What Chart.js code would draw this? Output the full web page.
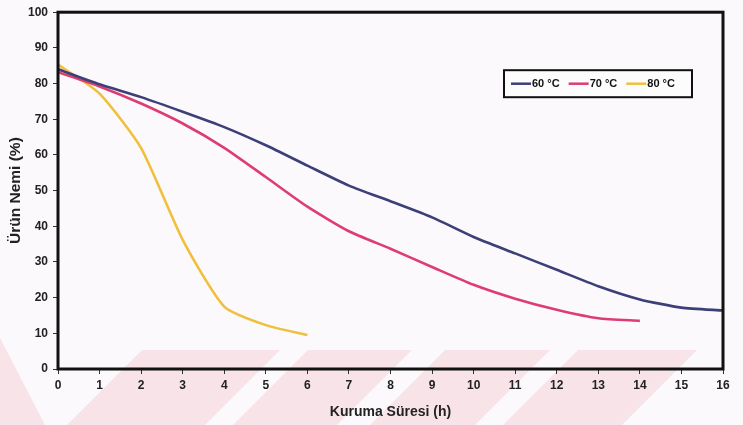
<!DOCTYPE html>
<html>
<head>
<meta charset="utf-8">
<script src="https://cdn.jsdelivr.net/npm/chart.js@4/dist/chart.umd.min.js"></script>
<style>
  html, body { margin: 0; padding: 0; background: #fbf9fb; }
  #wrap { width: 743px; height: 425px; }
</style>
</head>
<body>
<div id="wrap"><canvas id="chart" width="743" height="425"></canvas></div>
<script>
// drying time (h)
const hours = [0, 1, 2, 3, 4, 5, 6, 7, 8, 9, 10, 11, 12, 13, 14, 15, 16]
// product moisture (%) per temperature
const moist60 = [84, 79.8, 76.2, 72.1, 67.8, 62.7, 57, 51.4, 47, 42.5, 37, 32.4, 27.8, 23.2, 19.5, 17.2, 16.4]
const moist70 = [83.2, 79.2, 74.4, 68.8, 62, 53.8, 45.5, 38.6, 33.7, 28.6, 23.6, 19.7, 16.6, 14.2, 13.5]
const moist80 = [85.3, 77.2, 61.9, 36.2, 17.5, 12.3, 9.5]
const seriesNames = ['60 °C', '70 °C', '80 °C']
const seriesColors = ['#3c3f78', '#dd3d73', '#f0c03c']
const yTicks = [0, 10, 20, 30, 40, 50, 60, 70, 80, 90, 100]

const FONT = "'Liberation Sans', Arial, sans-serif"

const toPoints = vals => vals.map((v, i) => ({ x: hours[i], y: v }))

// scanned page look: faint pink watermark bands along the bottom
const paper = {
  id: 'paper',
  beforeDraw (chart) {
    const { ctx, width, height } = chart
    ctx.save()
    ctx.fillStyle = '#fbf9fb'
    ctx.fillRect(0, 0, width, height)
    ctx.fillStyle = '#f8e4e8'
    const top = 350
    const drop = height - top
    ;[[142, 280], [308, 412], [445, 550], [578, 697]].forEach(([a, b]) => {
      ctx.beginPath()
      ctx.moveTo(a, top)
      ctx.lineTo(b, top)
      ctx.lineTo(b - drop, height)
      ctx.lineTo(a - drop, height)
      ctx.closePath()
      ctx.fill()
    })
    ctx.beginPath()
    ctx.moveTo(0, 338)
    ctx.lineTo(45, height)
    ctx.lineTo(0, height)
    ctx.closePath()
    ctx.fill()
    ctx.restore()
  }
}

const frame = {
  id: 'frame',
  afterDatasetsDraw (chart) {
    const { ctx, chartArea: a } = chart
    ctx.save()
    ctx.strokeStyle = '#111'
    ctx.lineWidth = 3
    ctx.strokeRect(a.left, a.top, a.right - a.left, a.bottom - a.top)
    ctx.restore()
  }
}

// boxed legend like the original, inside the plot
const boxLegend = {
  id: 'boxLegend',
  afterDraw (chart) {
    const { ctx, chartArea: a } = chart
    const x0 = a.left + 446, y0 = a.top + 58, w = 188, h = 27
    ctx.save()
    ctx.fillStyle = '#fdfcfd'
    ctx.fillRect(x0, y0, w, h)
    ctx.strokeStyle = '#111'
    ctx.lineWidth = 2
    ctx.strokeRect(x0, y0, w, h)
    ctx.font = 'bold 11px ' + FONT
    ctx.textBaseline = 'middle'
    let x = x0 + 7
    const cy = y0 + h / 2
    chart.data.datasets.forEach(ds => {
      ctx.strokeStyle = ds.borderColor
      ctx.lineWidth = 2.5
      ctx.beginPath()
      ctx.moveTo(x, cy)
      ctx.lineTo(x + 20, cy)
      ctx.stroke()
      ctx.fillStyle = '#111'
      ctx.fillText(ds.label, x + 21, cy)
      x += 21 + ctx.measureText(ds.label).width + 9
    })
    ctx.restore()
  }
}

new Chart(document.getElementById('chart'), {
  type: 'line',
  data: {
    datasets: [moist60, moist70, moist80].map((vals, i) => ({
      label: seriesNames[i],
      data: toPoints(vals),
      borderColor: seriesColors[i],
      backgroundColor: seriesColors[i],
      borderWidth: 2.6,
      pointRadius: 0,
      tension: 0.2,
      fill: false
    }))
  },
  options: {
    responsive: false,
    animation: false,
    layout: { padding: { top: 10, right: 20, left: 0, bottom: 0 } },
    plugins: {
      legend: { display: false },
      tooltip: { enabled: false }
    },
    scales: {
      x: {
        type: 'linear',
        min: 0,
        max: 16,
        afterFit: s => { s.height = 56 },
        ticks: {
          stepSize: 1,
          color: '#222',
          padding: 4,
          font: { family: FONT, size: 12, weight: 'bold' }
        },
        grid: { drawOnChartArea: false, tickLength: 5, color: '#333' },
        border: { display: false },
        title: {
          display: true,
          text: 'Kuruma Süresi (h)',
          color: '#222',
          padding: { top: 3 },
          font: { family: FONT, size: 14, weight: 'bold' }
        }
      },
      y: {
        min: 0,
        max: 100,
        afterFit: s => { s.width = 58 },
        afterBuildTicks: s => { s.ticks = yTicks.map(v => ({ value: v })) },
        ticks: {
          color: '#222',
          padding: 5,
          font: { family: FONT, size: 12, weight: 'bold' }
        },
        grid: { drawOnChartArea: false, tickLength: 5, color: '#333' },
        border: { display: false },
        title: {
          display: true,
          text: 'Ürün Nemi (%)',
          color: '#222',
          padding: { bottom: 0, top: 6 },
          font: { family: FONT, size: 15.5, weight: 'bold' }
        }
      }
    }
  },
  plugins: [paper, frame, boxLegend]
})
</script>
</body>
</html>
